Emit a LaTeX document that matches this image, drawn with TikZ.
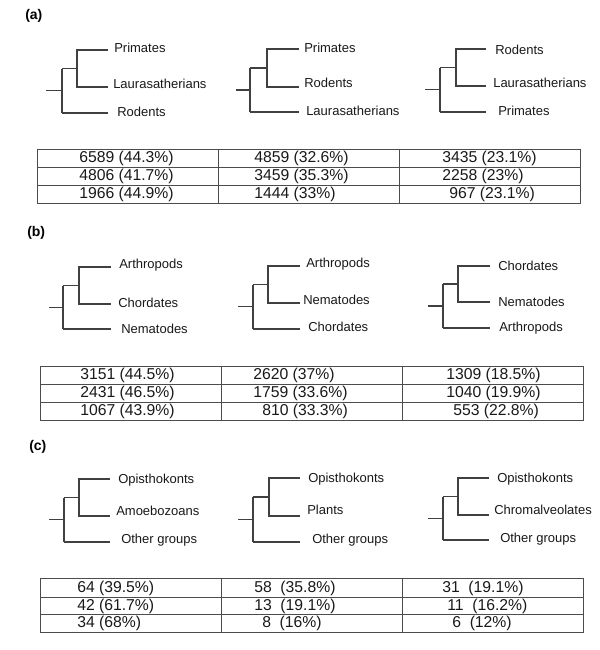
\documentclass[tikz,border=0pt]{standalone}
\usepackage{fontspec}
\setmainfont{Liberation Sans}
\newcommand{\phtree}[8]{% prefix, stub x, root x, inner x, y1, y2, y3, leaf end x
  \coordinate (#1s) at (#2,{((#5+#6)/2+#7)/2});
  \coordinate (#1r) at (#3,{((#5+#6)/2+#7)/2});
  \coordinate (#1ra) at (#3,{(#5+#6)/2});
  \coordinate (#1rc) at (#3,#7);
  \coordinate (#1j) at (#4,{(#5+#6)/2});
  \coordinate (#1ja) at (#4,#5);
  \coordinate (#1jb) at (#4,#6);
  \coordinate (#1e1) at (#8,#5);
  \coordinate (#1e2) at (#8,#6);
  \coordinate (#1e3) at (#8,#7);
  \draw[treeline] (#1s) -- (#1r);
  \draw[treeline] (#1ra) -- (#1rc);
  \draw[treeline] (#1ra) -- (#1j);
  \draw[treeline] (#1e1) -- (#1ja) -- (#1jb) -- (#1e2);
  \draw[treeline] (#1rc) -- (#1e3);
}
\newcommand{\phgrid}[9]{% prefix, x0,x1,x2,x3, y0,y1,y2,y3
  \coordinate (#1tl) at (#2,#6); \coordinate (#1br) at (#5,#9);
  \coordinate (#1h1l) at (#2,#7); \coordinate (#1h1r) at (#5,#7);
  \coordinate (#1h2l) at (#2,#8); \coordinate (#1h2r) at (#5,#8);
  \coordinate (#1v1t) at (#3,#6); \coordinate (#1v1b) at (#3,#9);
  \coordinate (#1v2t) at (#4,#6); \coordinate (#1v2b) at (#4,#9);
  \draw[gridline] (#1tl) rectangle (#1br);
  \draw[gridline] (#1h1l) -- (#1h1r);
  \draw[gridline] (#1h2l) -- (#1h2r);
  \draw[gridline] (#1v1t) -- (#1v1b);
  \draw[gridline] (#1v2t) -- (#1v2b);
}
\begin{document}
\begin{tikzpicture}[x=0.75pt,y=-0.75pt,
  treeline/.style={draw=black!75,line width=0.85pt},
  gridline/.style={draw=black!70,line width=0.6pt},
  leaf/.style={anchor=west,inner sep=0pt,text height=0.72em,text depth=0pt,text=black!90,font=\fontsize{9.75}{12}\selectfont},
  cell/.style={anchor=west,inner sep=0pt,text height=0.72em,text depth=0pt,text=black!90,font=\fontsize{11.8}{14}\selectfont},
  panel/.style={anchor=base west,inner sep=0pt,font=\fontsize{10.5}{13}\selectfont\bfseries}]
\useasboundingbox[fill=white] (0,0) rectangle (600,650);

% ---------------- (a)
\node[panel] (pa) at (25,19.5) {(a)};
\phtree{aa}{46}{62}{77}{50}{87}{113}{108}
\node[leaf] (aa1) at (114,48) {Primates};
\node[leaf] (aa2) at (113,84) {Laurasatherians};
\node[leaf] (aa3) at (117,112) {Rodents};
\phtree{ab}{236}{250}{267}{49}{87}{112}{299}
\node[leaf] (ab1) at (304,48) {Primates};
\node[leaf] (ab2) at (304,83) {Rodents};
\node[leaf] (ab3) at (306,111) {Laurasatherians};
\phtree{ac}{425}{440}{456}{49}{86}{112}{486}
\node[leaf] (ac1) at (495,50) {Rodents};
\node[leaf] (ac2) at (493,83) {Laurasatherians};
\node[leaf] (ac3) at (498,111) {Primates};

\phgrid{ta}{37}{218}{399}{580}{149}{167}{185}{203}
\node[cell] (ta11) at (79,158) {6589 (44.3\%)};
\node[cell] (ta21) at (79,176) {4806 (41.7\%)};
\node[cell] (ta31) at (79,194) {1966 (44.9\%)};
\node[cell] (ta12) at (254,158) {4859 (32.6\%)};
\node[cell] (ta22) at (254,176) {3459 (35.3\%)};
\node[cell] (ta32) at (254,194) {1444 (33\%)};
\node[cell] (ta13) at (442,158) {3435 (23.1\%)};
\node[cell] (ta23) at (442,176) {2258 (23\%)};
\node[cell] (ta33) at (449,194) {967 (23.1\%)};

% ---------------- (b)
\node[panel] (pb) at (27,236.5) {(b)};
\phtree{ba}{49}{63}{79}{267}{304}{329}{111}
\node[leaf] (ba1) at (119,264) {Arthropods};
\node[leaf] (ba2) at (118,303) {Chordates};
\node[leaf] (ba3) at (121,329) {Nematodes};
\phtree{bb}{238}{253}{268}{266}{303}{329}{300}
\node[leaf] (bb1) at (306,263) {Arthropods};
\node[leaf] (bb2) at (303,300) {Nematodes};
\node[leaf] (bb3) at (308,327) {Chordates};
\phtree{bc}{428}{443}{458}{266}{302}{328}{490}
\node[leaf] (bc1) at (498,266) {Chordates};
\node[leaf] (bc2) at (498,302) {Nematodes};
\node[leaf] (bc3) at (499,327) {Arthropods};

\phgrid{tb}{40}{221}{402}{583}{366}{384}{402}{420}
\node[cell] (tb11) at (80,375) {3151 (44.5\%)};
\node[cell] (tb21) at (80,393) {2431 (46.5\%)};
\node[cell] (tb31) at (80,411) {1067 (43.9\%)};
\node[cell] (tb12) at (253,375) {2620 (37\%)};
\node[cell] (tb22) at (253,393) {1759 (33.6\%)};
\node[cell] (tb32) at (262,411) {810 (33.3\%)};
\node[cell] (tb13) at (446,375) {1309 (18.5\%)};
\node[cell] (tb23) at (446,393) {1040 (19.9\%)};
\node[cell] (tb33) at (453,411) {553 (22.8\%)};

% ---------------- (c)
\node[panel] (pc) at (29,450) {(c)};
\phtree{ca}{49}{64}{79}{479}{516}{542}{110}
\node[leaf] (ca1) at (118,479) {Opisthokonts};
\node[leaf] (ca2) at (116,511) {Amoebozoans};
\node[leaf] (ca3) at (121,539) {Other groups};
\phtree{cb}{238}{253}{269}{478}{516}{542}{300}
\node[leaf] (cb1) at (308,478) {Opisthokonts};
\node[leaf] (cb2) at (307,510) {Plants};
\node[leaf] (cb3) at (312,539) {Other groups};
\phtree{cc}{428}{443}{458}{478}{515}{540}{489}
\node[leaf] (cc1) at (497,478) {Opisthokonts};
\node[leaf] (cc2) at (494,510) {Chromalveolates};
\node[leaf] (cc3) at (500,538) {Other groups};

\phgrid{tc}{40}{221}{402}{583}{578}{597}{614}{632}
\node[cell] (tc11) at (77,587.5) {64 (39.5\%)};
\node[cell] (tc21) at (77,605.5) {42 (61.7\%)};
\node[cell] (tc31) at (77,623) {34 (68\%)};
\node[cell] (tc12) at (254,587.5) {58\ \ (35.8\%)};
\node[cell] (tc22) at (254,605.5) {13\ \ (19.1\%)};
\node[cell] (tc32) at (262,623) {8\ \ (16\%)};
\node[cell] (tc13) at (442,587.5) {31\ \ (19.1\%)};
\node[cell] (tc23) at (447,605.5) {11\ \ (16.2\%)};
\node[cell] (tc33) at (452,623) {6\ \ (12\%)};
\end{tikzpicture}
\end{document}
